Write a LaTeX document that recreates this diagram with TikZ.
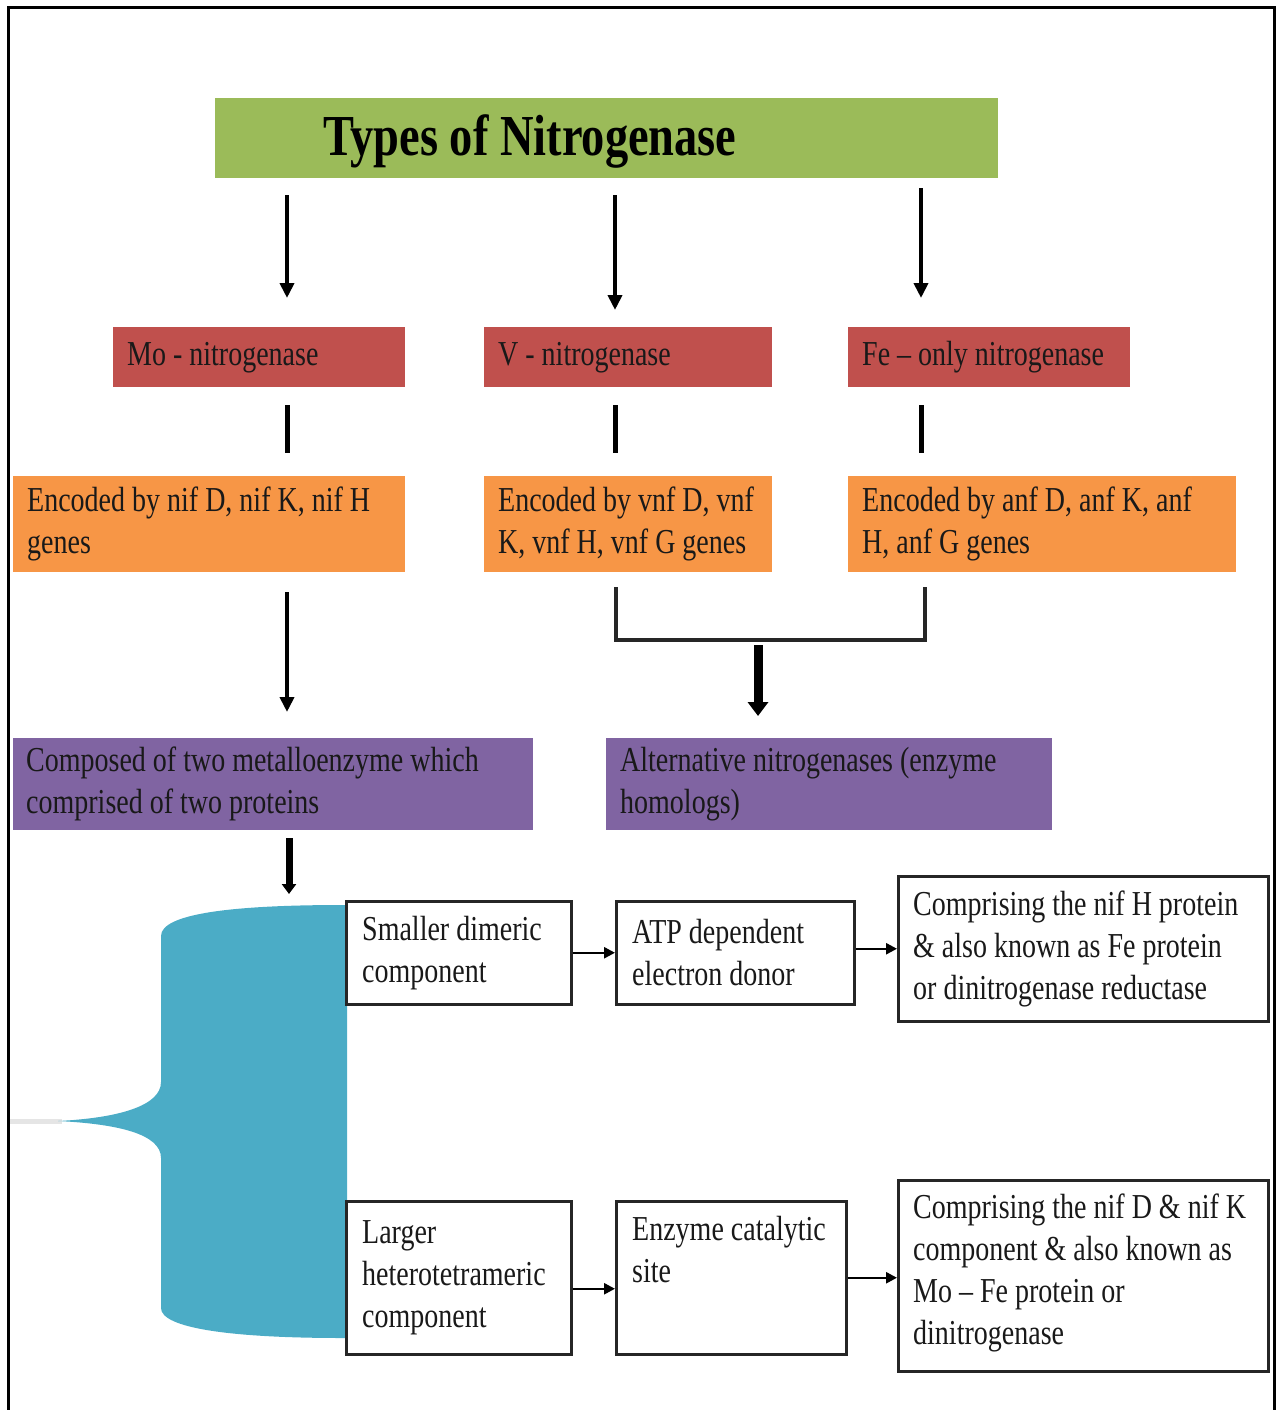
\documentclass[tikz,border=0pt]{standalone}
\usepackage{fontspec}
\setmainfont{Liberation Serif}[FakeStretch=0.8]
\usetikzlibrary{arrows.meta}
\definecolor{titlegreen}{HTML}{9BBB59}
\definecolor{boxred}{HTML}{C0504D}
\definecolor{boxorange}{HTML}{F79646}
\definecolor{boxpurple}{HTML}{8064A2}
\definecolor{braceteal}{HTML}{4BACC6}
\begin{document}
\begin{tikzpicture}[x=1pt,y=-1pt,
  cbox/.style={rectangle, draw=none, inner sep=0pt, anchor=north west},
  wbox/.style={rectangle, draw=black!85, line width=2.5pt, fill=white, inner sep=0pt, anchor=north west},
  txt/.style={inner sep=0pt, align=left, font=\fontsize{35}{42}\selectfont, text=black!90},
  arr/.style={line width=4pt, -{Triangle[width=14pt,length=15pt]}},
  bar/.style={line width=5pt},
  thickarr/.style={line width=9pt, -{Triangle[width=20pt,length=14pt]}},
  shortarr/.style={line width=7pt, -{Triangle[width=14pt,length=10pt]}},
  smallarr/.style={line width=2.5pt, -{Triangle[width=11pt,length=11pt]}}]
\useasboundingbox (0,0) rectangle (1276,1410);
% frame
\draw[line width=3pt] (8,1410) -- (8,8) -- (1274,8) -- (1274,1410);

% title
\node[cbox, fill=titlegreen, minimum width=783pt, minimum height=80pt] (title) at (215,98) {};
\node[anchor=base west, inner sep=0pt, font=\bfseries\fontsize{58}{60}\selectfont, text=black] (titletxt) at (323,155) {Types of Nitrogenase};

% red boxes
\node[cbox, fill=boxred, minimum width=292pt, minimum height=60pt] (mo) at (113,327) {};
\node[cbox, fill=boxred, minimum width=288pt, minimum height=60pt] (v) at (484,327) {};
\node[cbox, fill=boxred, minimum width=282pt, minimum height=60pt] (fe) at (848,327) {};
\node[txt, anchor=west] (motxt) at ([xshift=14pt]mo.west) {Mo - nitrogenase};
\node[txt, anchor=west] (vtxt) at ([xshift=14pt]v.west) {V - nitrogenase};
\node[txt, anchor=west] (fetxt) at ([xshift=14pt]fe.west) {Fe – only nitrogenase};

% orange boxes
\node[cbox, fill=boxorange, minimum width=392pt, minimum height=96pt] (moenc) at (13,476) {};
\node[cbox, fill=boxorange, minimum width=288pt, minimum height=96pt] (venc) at (484,476) {};
\node[cbox, fill=boxorange, minimum width=388pt, minimum height=96pt] (feenc) at (848,476) {};
\node[txt, anchor=west] (moenctxt) at ([xshift=14pt]moenc.west) {Encoded by nif D, nif K, nif H\\genes};
\node[txt, anchor=west] (venctxt) at ([xshift=14pt]venc.west) {Encoded by vnf D, vnf\\K, vnf H, vnf G genes};
\node[txt, anchor=west] (feenctxt) at ([xshift=14pt]feenc.west) {Encoded by anf D, anf K, anf\\H, anf G genes};

% purple boxes
\node[cbox, fill=boxpurple, minimum width=520pt, minimum height=92pt] (comp) at (13,738) {};
\node[cbox, fill=boxpurple, minimum width=446pt, minimum height=92pt] (alt) at (606,738) {};
\node[txt, anchor=west] (comptxt) at ([xshift=13pt]comp.west) {Composed of two metalloenzyme which\\comprised of two proteins};
\node[txt, anchor=west] (alttxt) at ([xshift=14pt]alt.west) {Alternative nitrogenases (enzyme\\homologs)};

% teal brace shape
\draw[gray!20, line width=5pt] (10,1121) -- (62,1121);
\fill[braceteal] (347,905) -- (343,905) .. controls (230,905) and (161,914) .. (161,936)
  -- (161,1082) .. controls (161,1106) and (118,1118) .. (58,1121)
  .. controls (118,1124) and (161,1134) .. (161,1158)
  -- (161,1308) .. controls (161,1328) and (230,1338) .. (343,1338) -- (347,1338) -- cycle;

% white boxes
\node[wbox, minimum width=225pt, minimum height=103pt] (smaller) at (345,900) {};
\node[wbox, minimum width=238pt, minimum height=103pt] (atp) at (615,900) {};
\node[wbox, minimum width=370pt, minimum height=145pt] (comph) at (897,875) {};
\node[wbox, minimum width=225pt, minimum height=153pt] (larger) at (345,1200) {};
\node[wbox, minimum width=230pt, minimum height=153pt] (enzyme) at (615,1200) {};
\node[wbox, minimum width=370pt, minimum height=191pt] (compd) at (897,1179) {};
\node[txt, anchor=west] (smallertxt) at ([xshift=17pt]smaller.west) {Smaller dimeric\\component};
\node[txt, anchor=west] (atptxt) at ([xshift=17pt]atp.west) {ATP dependent\\electron donor};
\node[txt, anchor=west] (comphtxt) at ([xshift=16pt]comph.west) {Comprising the nif H protein\\\& also known as Fe protein\\or dinitrogenase reductase};
\node[txt, anchor=west] (largertxt) at ([xshift=17pt]larger.west) {Larger\\heterotetrameric\\component};
\node[txt, anchor=base west] (enzymetxt) at ([xshift=17pt,yshift=-82pt]enzyme.north west) {Enzyme catalytic\\site};
\node[txt, anchor=west] (compdtxt) at ([xshift=16pt,yshift=3pt]compd.west) {Comprising the nif D \& nif K\\component \& also known as\\Mo – Fe protein or\\dinitrogenase};

% connectors
\coordinate (a1s) at (287,195); \coordinate (a1e) at (287,298);
\coordinate (a2s) at (615,195); \coordinate (a2e) at (615,310);
\coordinate (a3s) at (921,188); \coordinate (a3e) at (921,298);
\draw[arr] (a1s) -- (a1e);
\draw[arr] (a2s) -- (a2e);
\draw[arr] (a3s) -- (a3e);

\coordinate (b1s) at (287,405); \coordinate (b1e) at (287,453);
\coordinate (b2s) at (615,405); \coordinate (b2e) at (615,453);
\coordinate (b3s) at (921,405); \coordinate (b3e) at (921,453);
\draw[bar] (b1s) -- (b1e);
\draw[bar] (b2s) -- (b2e);
\draw[bar] (b3s) -- (b3e);

\coordinate (c1s) at (287,592); \coordinate (c1e) at (287,712);
\draw[arr] (c1s) -- (c1e);

\coordinate (k1) at (616,587); \coordinate (k2) at (925,587);
\draw[line width=3.5pt, black!85] (k1) -- (616,640) -- (925,640) -- (k2);
\coordinate (d1s) at (758,645); \coordinate (d1e) at (758,716);
\draw[thickarr] (d1s) -- (d1e);

\coordinate (e1s) at (289,838); \coordinate (e1e) at (289,894);
\draw[shortarr] (e1s) -- (e1e);

\draw[smallarr] (smaller.east) -- (smaller.east -| atp.west);
\draw[smallarr] ([yshift=4pt]atp.east) -- ([yshift=4pt]atp.east -| comph.west);
\draw[smallarr] ([yshift=-11pt]larger.east) -- ([yshift=-11pt]larger.east -| enzyme.west);
\draw[smallarr] (enzyme.east) -- (enzyme.east -| compd.west);
\end{tikzpicture}
\end{document}
